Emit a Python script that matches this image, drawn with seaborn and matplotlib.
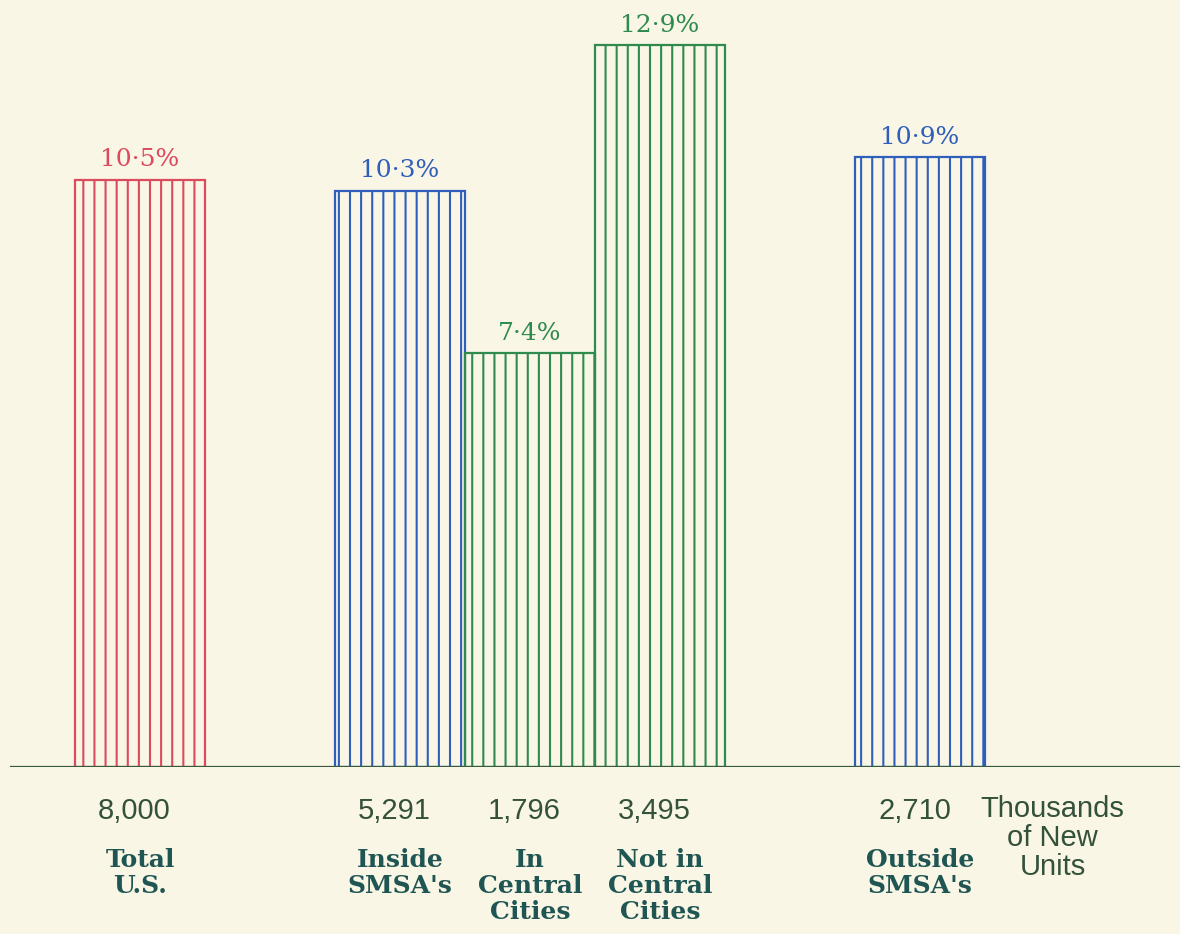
import matplotlib
matplotlib.use("Agg")
import matplotlib.pyplot as plt
import seaborn as sns
import pandas as pd

# New housing units by location, share added and thousands of units
categories = ["Total\nU.S.", "Inside\nSMSA's", "In\nCentral\nCities",
              "Not in\nCentral\nCities", "Outside\nSMSA's"]
positions = [0, 2, 3, 4, 6]
pct_values = [10.5, 10.3, 7.4, 12.9, 10.9]
pct_labels = ["10·5%", "10·3%", "7·4%", "12·9%", "10·9%"]
units_labels = ["8,000", "5,291", "1,796", "3,495", "2,710"]
bar_colors = ["#dc4a5e", "#2f5fba", "#2f8a4e", "#2f8a4e", "#2f5fba"]
units_note = "Thousands\nof New\nUnits"

BG = "#f9f6e6"
W, H, DPI = 1180, 934, 200

sns.set_theme(style="white")
plt.rcParams["hatch.linewidth"] = 0.75

fig = plt.figure(figsize=(W / DPI, H / DPI), dpi=DPI, facecolor=BG)
px_per_unit = 55.95
ymax = 13.5
ax = fig.add_axes([10 / W, 167 / H, 1170 / W, ymax * px_per_unit / H])
ax.set_facecolor(BG)

df = pd.DataFrame({"pos": positions, "pct": pct_values, "cat": categories})
sns.barplot(data=df, x="pos", y="pct", hue="cat", palette=bar_colors,
            native_scale=True, width=1.0, fill=False, legend=False, ax=ax)

for patch in ax.patches:
    xc = patch.get_x() + patch.get_width() / 2
    i = min(range(len(positions)), key=lambda k: abs(positions[k] - xc))
    patch.set_facecolor("none")
    patch.set_edgecolor(bar_colors[i])
    patch.set_linewidth(0.8)
    patch.set_hatch("|||")

ax.set_xlim(-1.0, 8.0)
ax.set_ylim(0, ymax)
ax.axhline(0, color="#355a3c", lw=0.8, zorder=5)
for s in ax.spines.values():
    s.set_visible(False)
ax.set_xticks([])
ax.set_yticks([])
ax.set_xlabel("")
ax.set_ylabel("")

for x, v, lab, c in zip(positions, pct_values, pct_labels, bar_colors):
    ax.annotate(lab, (x, v), xytext=(0, 3), textcoords="offset points",
                ha="center", va="bottom", color=c, fontsize=9,
                family="DejaVu Serif")

for x, u, cat in zip(positions, units_labels, categories):
    ax.annotate(u, (x, 0), xytext=(-2, -16), textcoords="offset points",
                ha="center", va="center", color="#34513a", fontsize=10.5,
                family="Liberation Sans", annotation_clip=False)
    ax.annotate(cat, (x, 0), xytext=(0, -29), textcoords="offset points",
                ha="center", va="top", color="#1f5552", fontsize=9,
                family="DejaVu Serif", weight="bold", linespacing=1.12,
                multialignment="center", annotation_clip=False)

ax.annotate(units_note, (7.02, 0), xytext=(0, -10), textcoords="offset points",
            ha="center", va="top", color="#34513a", fontsize=10.5,
            family="Liberation Sans", linespacing=1.05,
            multialignment="center", annotation_clip=False)

fig.savefig("out.png", dpi=DPI, facecolor=BG)
